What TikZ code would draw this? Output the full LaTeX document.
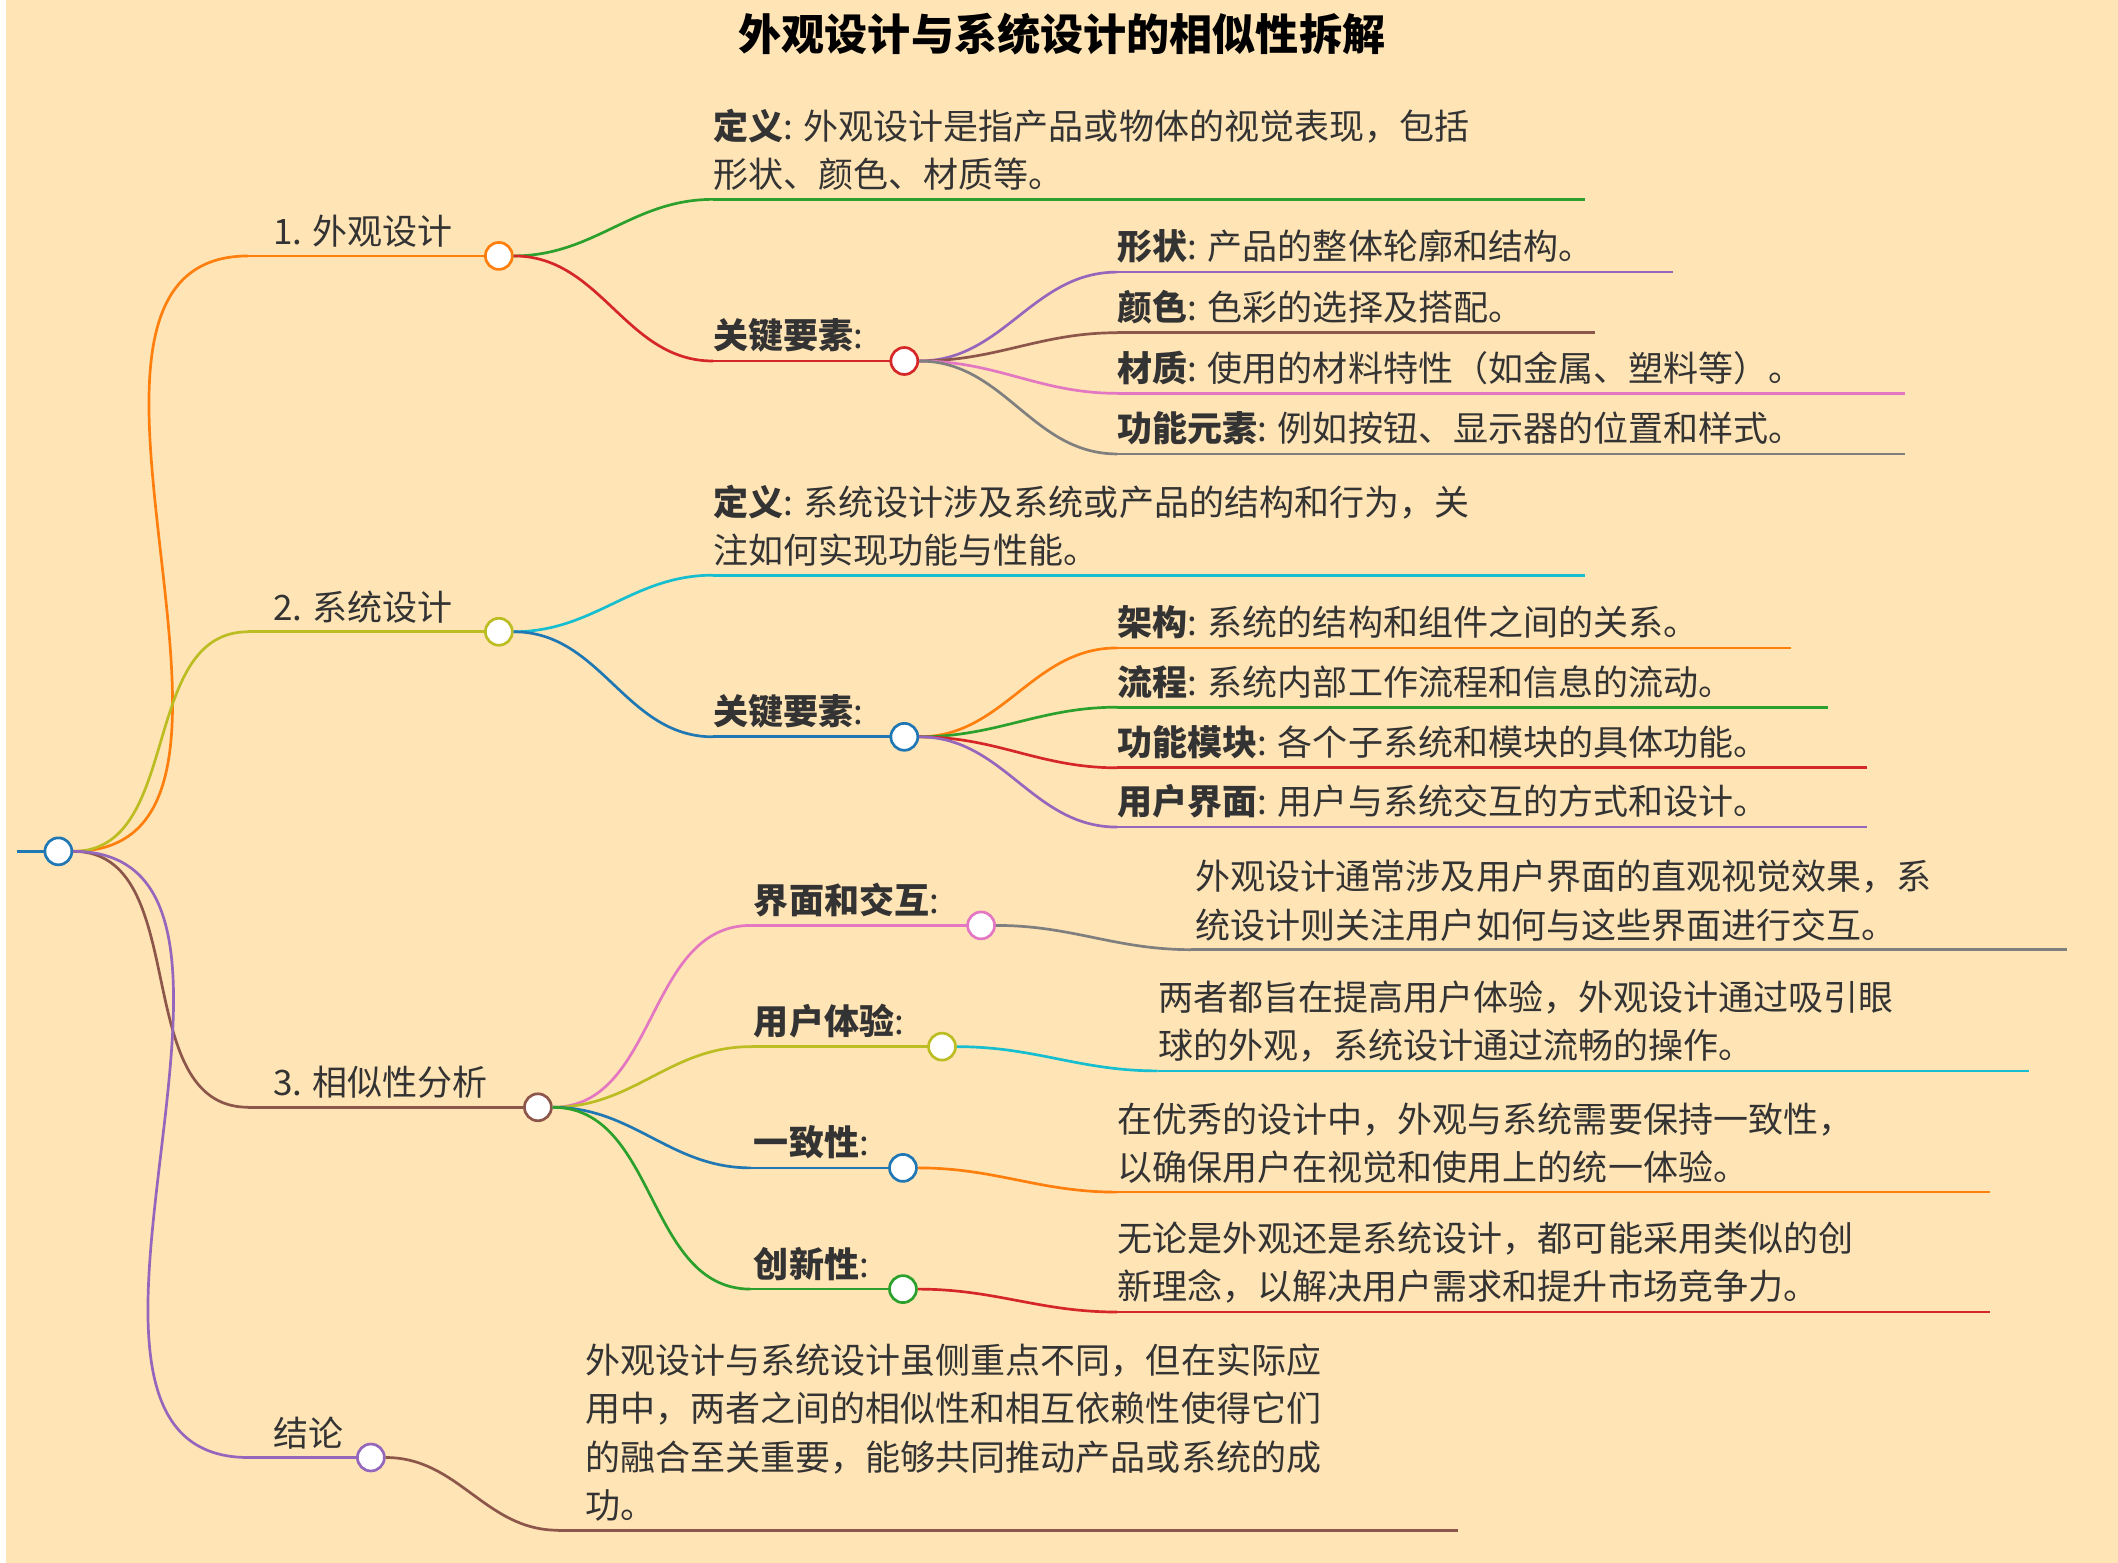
\documentclass[tikz,border=0pt]{standalone}
\usepackage{fontspec}
\newfontfamily\cjk{Noto Sans CJK SC}
\definecolor{bg}{HTML}{FFE4B5}
\definecolor{txt}{HTML}{333333}
\definecolor{cO}{HTML}{FF7F0E}\definecolor{cG}{HTML}{2CA02C}\definecolor{cR}{HTML}{D62728}
\definecolor{cP}{HTML}{9467BD}\definecolor{cB}{HTML}{8C564B}\definecolor{cK}{HTML}{E377C2}
\definecolor{cY}{HTML}{7F7F7F}\definecolor{cL}{HTML}{BCBD22}\definecolor{cC}{HTML}{17BECF}
\definecolor{cU}{HTML}{1F77B4}
\tikzset{x=0.5pt,y=-0.5pt,
 ln/.style={line width=1pt},
 dot/.style={circle,draw,line width=1pt,fill=white,minimum size=10pt,inner sep=0},
 lbl/.style={anchor=south west,inner sep=0,font=\cjk\fontsize{13}{18}\selectfont,text=txt,align=left},
 cv/.style={ln,out=0,in=180}}
% \ul{name}{x1}{x2}{y}{color}
\newcommand\ul[5]{\coordinate (#1s) at (#2,#4);\coordinate (#1e) at (#3,#4);\draw[ln,#5] (#1s)--(#1e);}
\begin{document}
\begin{tikzpicture}
\fill[bg] (0,0) rectangle (1568,1160);
\node[font=\cjk\bfseries\fontsize{16}{20}\selectfont,text=black] (title) at (784,25) {外观设计与系统设计的相似性拆解};
% root
\coordinate (r0) at (8,632);
\node[dot,draw=cU] (root) at (39,632) {};
\draw[ln,cU] (r0)--(root);
% branch 1
\ul{b1}{180}{366}{190}{cO}
\draw[cv,cO] (root.east) to (b1s);
\node[lbl] (t1) at (198,184) {1. 外观设计};
\ul{d1}{525}{1172}{148}{cG}
\node[lbl] (td1) at (525,142) {\textbf{定义}: 外观设计是指产品或物体的视觉表现，包括\\形状、颜色、材质等。};
\ul{k1}{525}{667}{268}{cR}
\node[lbl] (tk1) at (525,262) {\textbf{关键要素}:};
\node[dot,draw=cO] (n1) at (b1e) {};
\draw[cv,cG] (n1.east) to (d1s);
\draw[cv,cR] (n1.east) to (k1s);
\ul{a1}{825}{1238}{202}{cP}\node[lbl] at (825,196) {\textbf{形状}: 产品的整体轮廓和结构。};
\ul{a2}{825}{1180}{247}{cB}\node[lbl] at (825,241) {\textbf{颜色}: 色彩的选择及搭配。};
\ul{a3}{825}{1410}{292}{cK}\node[lbl] at (825,286) {\textbf{材质}: 使用的材料特性（如金属、塑料等）。};
\ul{a4}{825}{1410}{337}{cY}\node[lbl] at (825,331) {\textbf{功能元素}: 例如按钮、显示器的位置和样式。};
\node[dot,draw=cR] (m1) at (k1e) {};
\draw[cv,cP] (m1.east) to (a1s);\draw[cv,cB] (m1.east) to (a2s);
\draw[cv,cK] (m1.east) to (a3s);\draw[cv,cY] (m1.east) to (a4s);
% branch 2
\ul{b2}{180}{366}{469}{cL}
\draw[cv,cL] (root.east) to (b2s);
\node[lbl] at (198,463) {2. 系统设计};
\ul{d2}{525}{1172}{427}{cC}
\node[lbl] at (525,421) {\textbf{定义}: 系统设计涉及系统或产品的结构和行为，关\\注如何实现功能与性能。};
\ul{k2}{525}{667}{547}{cU}
\node[lbl] at (525,541) {\textbf{关键要素}:};
\node[dot,draw=cL] (n2) at (b2e) {};
\draw[cv,cC] (n2.east) to (d2s);
\draw[cv,cU] (n2.east) to (k2s);
\ul{c1}{825}{1325}{481}{cO}\node[lbl] at (825,475) {\textbf{架构}: 系统的结构和组件之间的关系。};
\ul{c2}{825}{1353}{525}{cG}\node[lbl] at (825,519) {\textbf{流程}: 系统内部工作流程和信息的流动。};
\ul{c3}{825}{1382}{570}{cR}\node[lbl] at (825,564) {\textbf{功能模块}: 各个子系统和模块的具体功能。};
\ul{c4}{825}{1382}{614}{cP}\node[lbl] at (825,608) {\textbf{用户界面}: 用户与系统交互的方式和设计。};
\node[dot,draw=cU] (m2) at (k2e) {};
\draw[cv,cO] (m2.east) to (c1s);\draw[cv,cG] (m2.east) to (c2s);
\draw[cv,cR] (m2.east) to (c3s);\draw[cv,cP] (m2.east) to (c4s);
% branch 3
\ul{b3}{180}{395}{822}{cB}
\draw[cv,cB] (root.east) to (b3s);
\node[lbl] at (198,816) {3. 相似性分析};
\ul{e1}{553}{724}{687}{cK}\node[lbl] at (555,681) {\textbf{界面和交互}:};
\ul{e2}{553}{695}{777}{cL}\node[lbl] at (555,771) {\textbf{用户体验}:};
\ul{e3}{553}{666}{867}{cU}\node[lbl] at (555,861) {\textbf{一致性}:};
\ul{e4}{553}{666}{957}{cG}\node[lbl] at (555,951) {\textbf{创新性}:};
\node[dot,draw=cB] (n3) at (b3e) {};
\draw[cv,cK] (n3.east) to (e1s);\draw[cv,cL] (n3.east) to (e2s);
\draw[cv,cU] (n3.east) to (e3s);\draw[cv,cG] (n3.east) to (e4s);
\ul{f1}{880}{1530}{705}{cY}\node[lbl] at (883,699) {外观设计通常涉及用户界面的直观视觉效果，系\\统设计则关注用户如何与这些界面进行交互。};
\ul{f2}{855}{1502}{795}{cC}\node[lbl] at (855,789) {两者都旨在提高用户体验，外观设计通过吸引眼\\球的外观，系统设计通过流畅的操作。};
\ul{f3}{825}{1473}{885}{cO}\node[lbl] at (825,879) {在优秀的设计中，外观与系统需要保持一致性，\\以确保用户在视觉和使用上的统一体验。};
\ul{f4}{825}{1473}{974}{cR}\node[lbl] at (825,968) {无论是外观还是系统设计，都可能采用类似的创\\新理念，以解决用户需求和提升市场竞争力。};
\node[dot,draw=cK] (p1) at (e1e) {};\draw[cv,cY] (p1.east) to (f1s);
\node[dot,draw=cL] (p2) at (e2e) {};\draw[cv,cC] (p2.east) to (f2s);
\node[dot,draw=cU] (p3) at (e3e) {};\draw[cv,cO] (p3.east) to (f3s);
\node[dot,draw=cG] (p4) at (e4e) {};\draw[cv,cR] (p4.east) to (f4s);
% conclusion
\ul{b4}{180}{271}{1082}{cP}
\draw[cv,cP] (root.east) to (b4s);
\node[lbl] at (198,1076) {结论};
\ul{g1}{410}{1078}{1136}{cB}
\node[lbl] at (430,1130) {外观设计与系统设计虽侧重点不同，但在实际应\\用中，两者之间的相似性和相互依赖性使得它们\\的融合至关重要，能够共同推动产品或系统的成\\功。};
\node[dot,draw=cP] (n4) at (b4e) {};
\draw[cv,cB] (n4.east) to (g1s);
\end{tikzpicture}
\end{document}
